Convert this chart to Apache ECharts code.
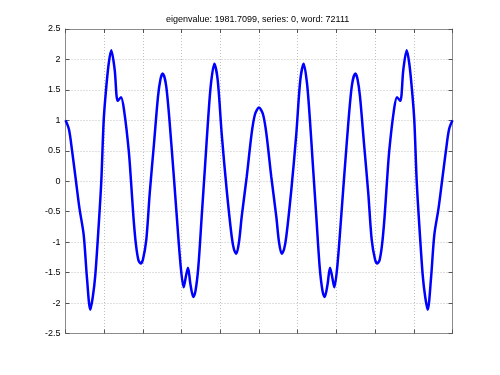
<!DOCTYPE html>
<html>
<head>
<meta charset="utf-8">
<script src="https://cdn.jsdelivr.net/npm/echarts@6/dist/echarts.min.js"></script>
<style>
html,body{margin:0;padding:0;background:#fff;}
#chart{width:500px;height:375px;}
</style>
</head>
<body>
<div id="chart"></div>
<script>
var titleText = 'eigenvalue: 1981.7099, series: 0, word: 72111';
var yTicks = [-2.5, -2, -1.5, -1, -0.5, 0, 0.5, 1, 1.5, 2, 2.5];
var xs = [
  0, 0.90, 1.68, 2.71, 3.62, 4.70, 5.56, 6.41, 7.05, 7.70, 8.58, 9.25, 9.87,
  10.47, 11.16, 11.83, 12.71, 13.49, 14.34, 15.19, 16.33, 16.93, 17.57, 18.22,
  18.86, 19.43, 20.03, 20.88, 21.76, 22.87, 23.90, 24.55, 25.12, 26.05, 27.34,
  28.63, 29.77, 30.54, 31.14, 31.65, 32.30, 33.02, 33.59, 34.32, 35.19, 36.05,
  36.90, 37.60, 38.45, 39.33, 40.36, 41.65, 42.95, 43.54, 44.13, 44.83, 45.53,
  46.82, 48.11, 48.97, 50.00,
  51.03, 51.89, 53.18, 54.47, 55.17, 55.87, 56.46, 57.05, 58.35, 59.64, 60.67,
  61.55, 62.40, 63.10, 63.95, 64.81, 65.68, 66.41, 66.98, 67.70, 68.35, 68.86,
  69.46, 70.23, 71.37, 72.66, 73.95, 74.88, 75.45, 76.10, 77.13, 78.24, 79.12,
  79.97, 80.57, 81.14, 81.78, 82.43, 83.07, 83.67, 84.81, 85.66, 86.51, 87.29,
  88.17, 88.84, 89.53, 90.13, 90.75, 91.42, 92.30, 92.95, 93.59, 94.44, 95.30,
  96.38, 97.29, 98.32, 99.10, 100
];
var ys = [
  1.00, 0.85, 0.51, 0.00, -0.45, -0.88, -1.60, -2.11, -1.90, -1.54, -0.72, 0.00, 1.00,
  1.50, 1.93, 2.15, 1.83, 1.32, 1.38, 1.14, 0.51, 0.00, -0.60, -1.05,
  -1.30, -1.35, -1.28, -0.96, -0.20, 0.62, 1.39, 1.68, 1.77, 1.55, 0.62,
  -0.47, -1.40, -1.74, -1.55, -1.42, -1.70, -1.90, -1.80, -1.41, -0.58, 0.24,
  1.06, 1.61, 1.93, 1.66, 0.78, -0.14, -0.91, -1.12, -1.19, -1.00, -0.58,
  0.07, 0.79, 1.10, 1.21,
  1.10, 0.79, 0.07, -0.58, -1.00, -1.19, -1.12, -0.91, -0.14, 0.78, 1.66,
  1.93, 1.61, 1.06, 0.24, -0.58, -1.41, -1.80, -1.90, -1.70, -1.42, -1.55,
  -1.74, -1.40, -0.47, 0.62, 1.55, 1.77, 1.68, 1.39, 0.62, -0.20, -0.96,
  -1.28, -1.35, -1.30, -1.05, -0.60, 0.00, 0.51, 1.14, 1.38, 1.32, 1.83,
  2.15, 1.93, 1.50, 1.00, 0.00, -0.72, -1.54, -1.90, -2.11, -1.60, -0.88,
  -0.45, 0.00, 0.51, 0.85, 1.00
];

var data = xs.map(function (x, i) { return [x, ys[i]]; });
var axisColor = '#8c8c8c';
var gridStyle = { show: true, lineStyle: { color: '#c0c0c0', type: [1, 2], width: 1 } };
var font = 'Liberation Sans, Arial, Helvetica, sans-serif';

var chart = echarts.init(document.getElementById('chart'), null, { renderer: 'canvas' });
chart.setOption({
  animation: false,
  backgroundColor: '#ffffff',
  title: {
    text: titleText,
    left: 161, top: 10,
    textStyle: { fontFamily: font, fontSize: 9, fontWeight: 'normal', color: '#000' }
  },
  grid: { left: 65.5, right: 47.5, top: 29, bottom: 41.5, containLabel: false },
  xAxis: [
    {
      type: 'value', min: 0, max: 100, interval: 10, position: 'bottom',
      axisLine: { show: true, onZero: false, lineStyle: { color: axisColor, width: 1 } },
      axisTick: { show: true, inside: true, length: 4, lineStyle: { color: '#555' } },
      axisLabel: { show: false },
      splitLine: gridStyle
    },
    {
      type: 'value', min: 0, max: 100, interval: 10, position: 'top',
      axisLine: { show: true, onZero: false, lineStyle: { color: axisColor, width: 1 } },
      axisTick: { show: true, inside: true, length: 4, lineStyle: { color: '#555' } },
      axisLabel: { show: false },
      splitLine: { show: false }
    }
  ],
  yAxis: [
    {
      type: 'value', min: yTicks[0], max: yTicks[yTicks.length - 1], interval: 0.5, position: 'left',
      axisLine: { show: true, onZero: false, lineStyle: { color: axisColor, width: 1 } },
      axisTick: { show: true, inside: true, length: 4, lineStyle: { color: '#555' } },
      axisLabel: { show: true, margin: 5, fontFamily: font, fontSize: 9, color: '#000',
        formatter: function (v) { return String(v); } },
      splitLine: gridStyle
    },
    {
      type: 'value', min: yTicks[0], max: yTicks[yTicks.length - 1], interval: 0.5, position: 'right',
      axisLine: { show: true, onZero: false, lineStyle: { color: axisColor, width: 1 } },
      axisTick: { show: true, inside: true, length: 4, lineStyle: { color: '#555' } },
      axisLabel: { show: false },
      splitLine: { show: false }
    }
  ],
  series: [{
    type: 'line',
    data: data,
    xAxisIndex: 0, yAxisIndex: 0,
    showSymbol: false,
    smooth: 0.3,
    lineStyle: { color: '#0000ff', width: 2.5 },
    silent: true
  }]
});
</script>
</body>
</html>
